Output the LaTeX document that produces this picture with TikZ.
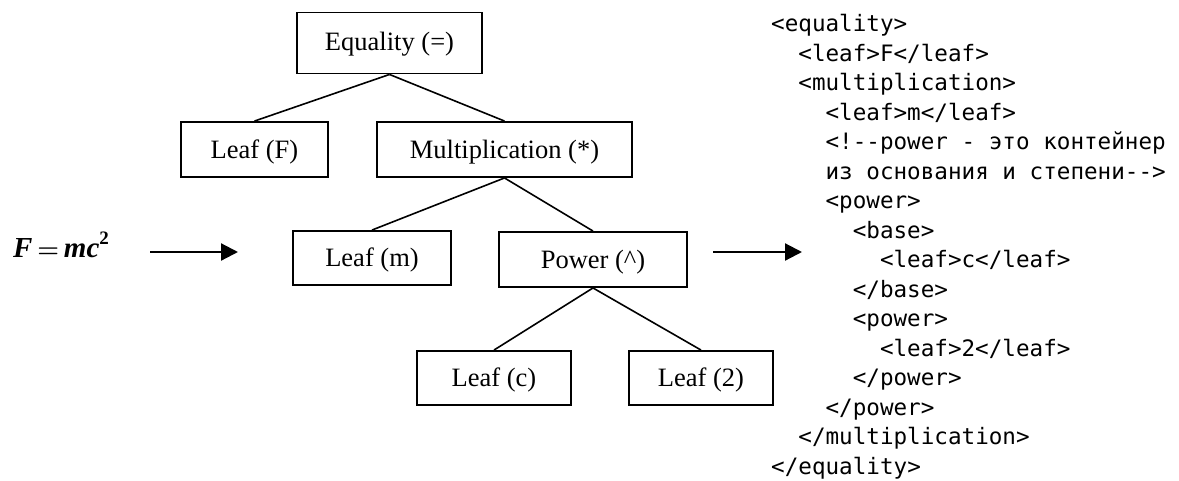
\documentclass[tikz,border=0pt]{standalone}
\usepackage{fontspec}
\setmainfont{Liberation Serif}
\newfontfamily\codefont{DejaVu Sans Mono}
\usetikzlibrary{arrows.meta}
\newcommand{\dd}{-\kern0pt-}
\begin{document}
\begin{tikzpicture}[x=1pt,y=-1pt,
  box/.style={draw, line width=1.9pt, inner sep=0pt, text height=22pt, text depth=4.6pt,
    font=\fontsize{26.5}{30}\selectfont},
  edge/.style={line width=1.6pt},
  arr/.style={line width=2.2pt, -{Triangle[length=17pt,width=17pt]}},
  code/.style={anchor=base west, inner sep=0pt, font=\codefont\fontsize{22.6}{29.5}\selectfont}]
\useasboundingbox (0,0) rectangle (1179,480);

% tree
\node[box, minimum width=185pt, minimum height=61pt, text depth=7pt] (eq) at (389.5,43) {Equality (=)};
\node[box, minimum width=147pt, minimum height=55pt] (lf) at (254.5,149.5) {Leaf (F)};
\node[box, minimum width=255pt, minimum height=55pt] (mul) at (504.5,149.5) {Multiplication (*)};
\node[box, minimum width=158pt, minimum height=54pt] (lm) at (372,258) {Leaf (m)};
\node[box, minimum width=188pt, minimum height=55pt] (pw) at (593,259.5) {Power (\^{})};
\node[box, minimum width=154pt, minimum height=54pt] (lc) at (494,378) {Leaf (c)};
\node[box, minimum width=144pt, minimum height=54pt] (l2) at (701,378) {Leaf (2)};

\draw[edge] (eq.south) -- (lf.north);
\draw[edge] (eq.south) -- (mul.north);
\draw[edge] (mul.south) -- (lm.north);
\draw[edge] (mul.south) -- (pw.north);
\draw[edge] (pw.south) -- (lc.north);
\draw[edge] (pw.south) -- (l2.north);

% formula
\node[anchor=base west, inner sep=0pt, font=\fontsize{29}{32}\selectfont\bfseries] (f) at (13,257)
  {\textit{F}\,{\boldmath$=$}\,\textit{mc}\raisebox{0.42em}{\fontsize{19}{19}\selectfont 2}};

% arrows
\coordinate (a1s) at (150,252);
\coordinate (a1e) at (238,252);
\coordinate (a2s) at (713,252);
\coordinate (a2e) at (802,252);
\draw[arr] (a1s) -- (a1e);
\draw[arr] (a2s) -- (a2e);

% code
\node[code] (c1)  at (771+13.6*0,31.5+29.5*0)  {<equality>};
\node[code] (c2)  at (771+13.6*2,31.5+29.5*1)  {<leaf>F</leaf>};
\node[code] (c3)  at (771+13.6*2,31.5+29.5*2)  {<multiplication>};
\node[code] (c4)  at (771+13.6*4,31.5+29.5*3)  {<leaf>m</leaf>};
\node[code] (c5)  at (771+13.6*4,31.5+29.5*4)  {<!\dd power - это контейнер};
\node[code] (c6)  at (771+13.6*4,31.5+29.5*5)  {из основания и степени\dd>};
\node[code] (c7)  at (771+13.6*4,31.5+29.5*6)  {<power>};
\node[code] (c8)  at (771+13.6*6,31.5+29.5*7)  {<base>};
\node[code] (c9)  at (771+13.6*8,31.5+29.5*8)  {<leaf>c</leaf>};
\node[code] (c10) at (771+13.6*6,31.5+29.5*9)  {</base>};
\node[code] (c11) at (771+13.6*6,31.5+29.5*10) {<power>};
\node[code] (c12) at (771+13.6*8,31.5+29.5*11) {<leaf>2</leaf>};
\node[code] (c13) at (771+13.6*6,31.5+29.5*12) {</power>};
\node[code] (c14) at (771+13.6*4,31.5+29.5*13) {</power>};
\node[code] (c15) at (771+13.6*2,31.5+29.5*14) {</multiplication>};
\node[code] (c16) at (771+13.6*0,31.5+29.5*15) {</equality>};
\end{tikzpicture}
\end{document}
